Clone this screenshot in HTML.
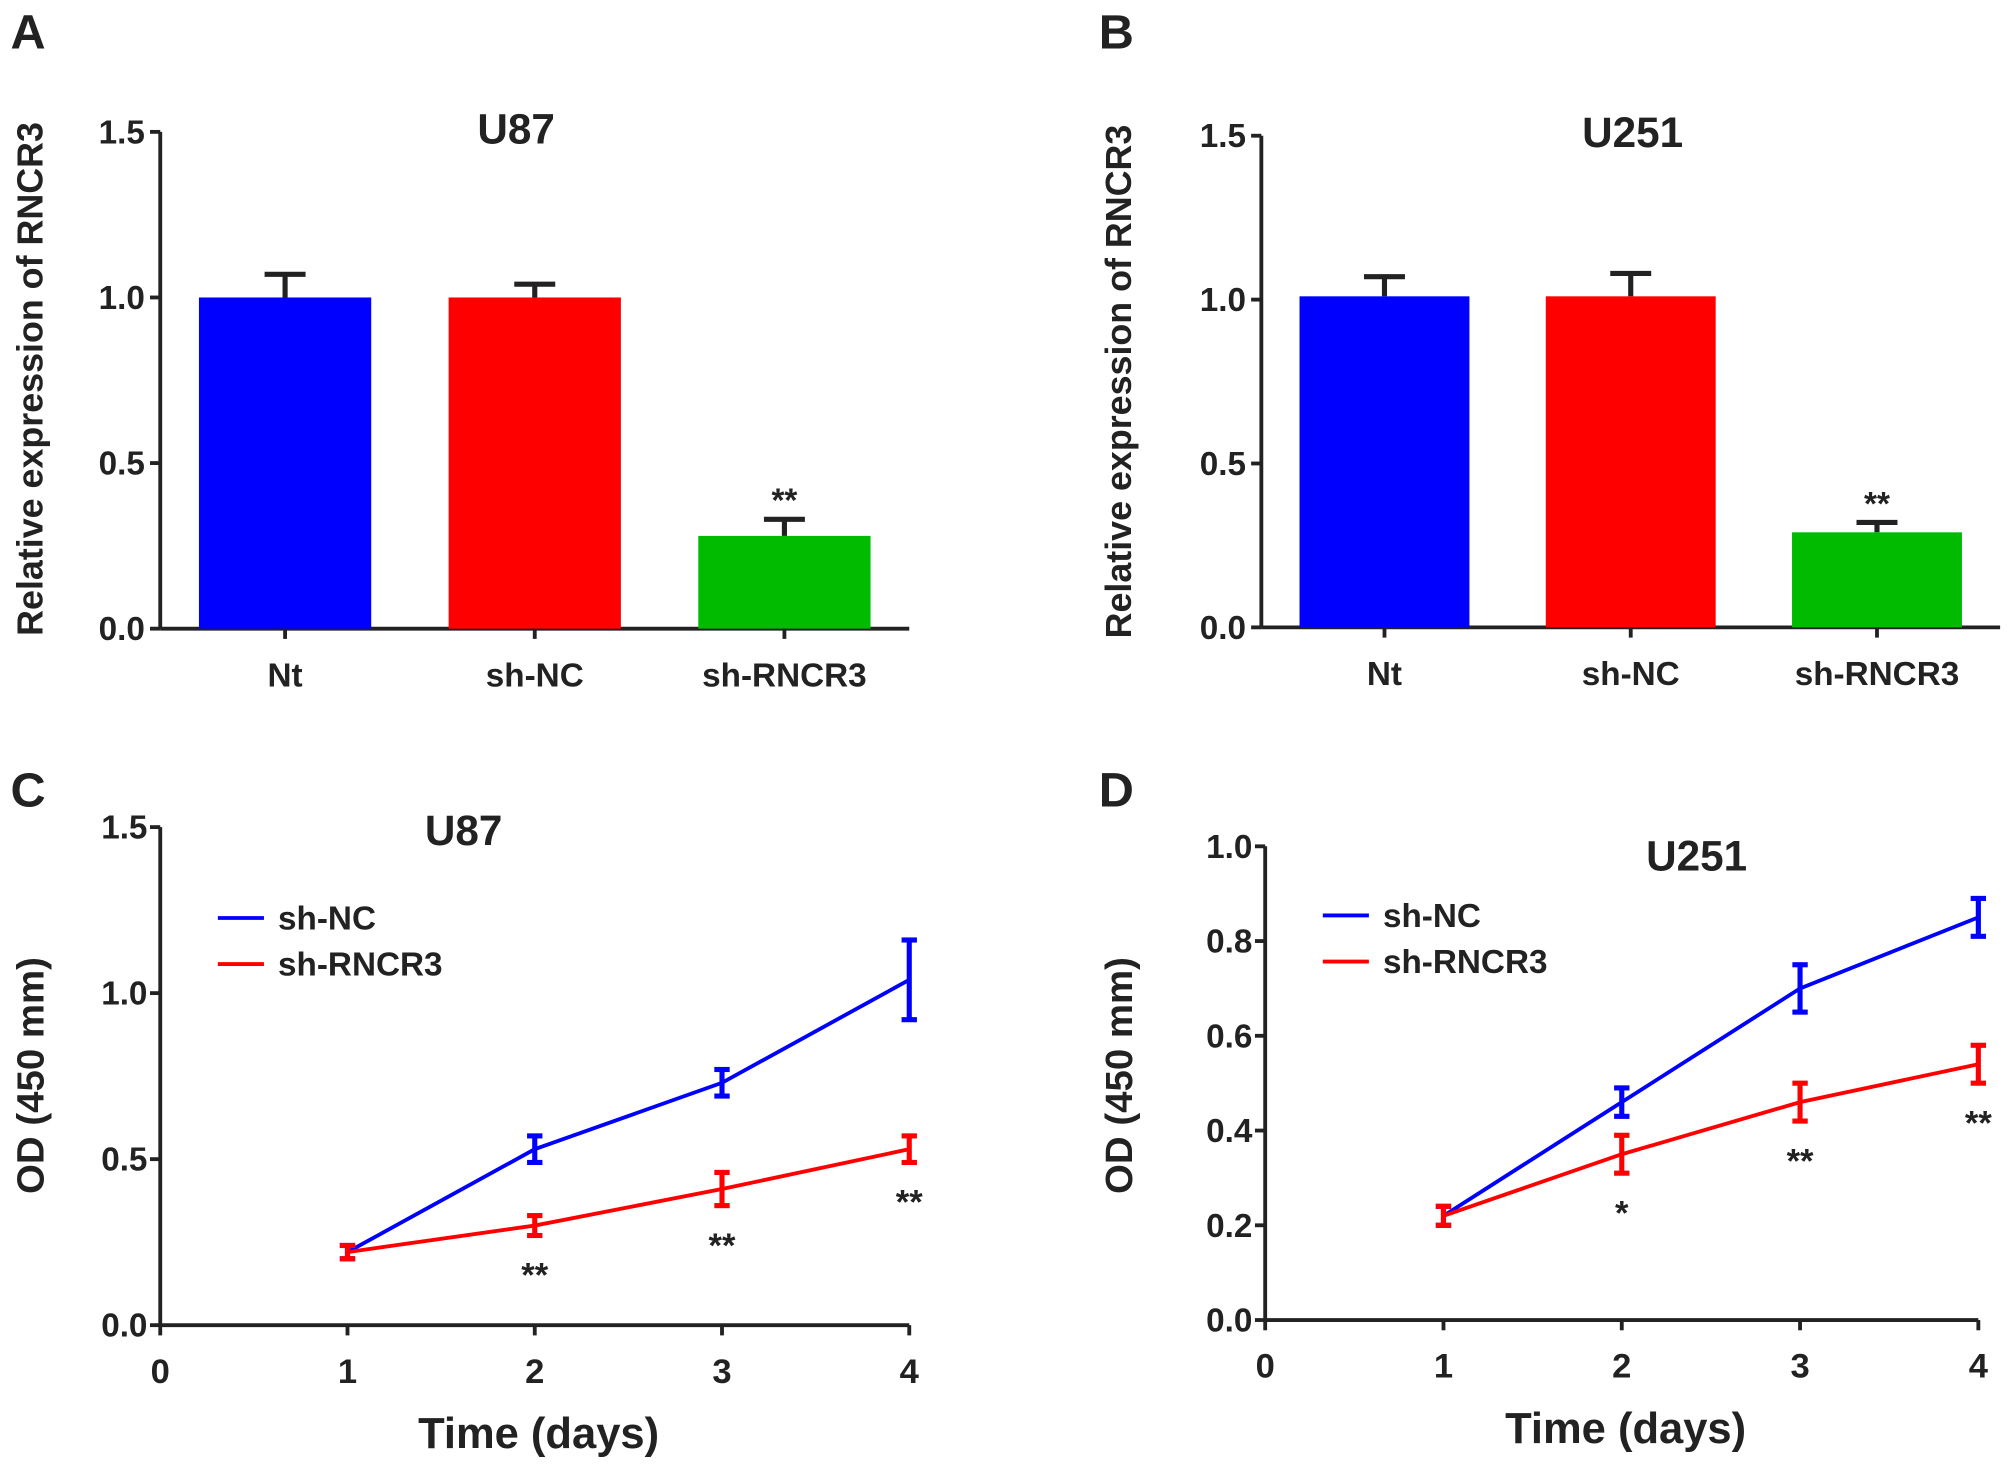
<!DOCTYPE html>
<html><head><meta charset="utf-8"><style>
html,body{margin:0;padding:0;background:#fff}
svg{display:block}
text{font-family:"Liberation Sans",Arial,sans-serif;font-weight:bold;fill:#222}
</style></head><body>
<svg id="fig" width="2008" height="1466" viewBox="0 0 1568 1145" xmlns="http://www.w3.org/2000/svg"></svg>
<script>
// Panel A data
const barCatsA = ["Nt","sh-NC","sh-RNCR3"];
const barValsA = [1.0, 1.0, 0.28];
const barErrA = [0.07, 0.04, 0.05];
// Panel B data
const barCatsB = ["Nt","sh-NC","sh-RNCR3"];
const barValsB = [1.01, 1.01, 0.29];
const barErrB = [0.06, 0.07, 0.03];
const barTicksAB = [0.0, 0.5, 1.0, 1.5];
const barColors = ["#0000ff","#ff0000","#00bb00"];
// Panel C data
const daysC = [1,2,3,4];
const ncValsC = [0.22, 0.53, 0.73, 1.04];
const ncErrC = [0.02, 0.04, 0.04, 0.12];
const shValsC = [0.22, 0.30, 0.41, 0.53];
const shErrC = [0.02, 0.03, 0.05, 0.04];
const starsC = ["", "**", "**", "**"];
const yTicksC = [0.0, 0.5, 1.0, 1.5];
// Panel D data
const daysD = [1,2,3,4];
const ncValsD = [0.22, 0.46, 0.70, 0.85];
const ncErrD = [0.02, 0.03, 0.05, 0.04];
const shValsD = [0.22, 0.35, 0.46, 0.54];
const shErrD = [0.02, 0.04, 0.04, 0.04];
const starsD = ["", "*", "**", "**"];
const yTicksD = [0.0, 0.2, 0.4, 0.6, 0.8, 1.0];
const xTicksCD = [0,1,2,3,4];

const svg = document.getElementById('fig');
const NS = "http://www.w3.org/2000/svg";
function mk(tag, attrs, parent, txt){
  const e = document.createElementNS(NS, tag);
  for (const k in attrs) e.setAttribute(k, attrs[k]);
  if (txt !== undefined) e.textContent = txt;
  (parent||svg).appendChild(e);
  return e;
}
function grp(name){
  const g = mk('g', {});
  
  
  return g;
}
function errBar(g, x, yTop, yBot, col, w, capBottom){
  mk('line',{x1:x,x2:x,y1:yTop,y2:yBot,stroke:col,'stroke-width':4},g);
  mk('line',{x1:x-w,x2:x+w,y1:yTop,y2:yTop,stroke:col,'stroke-width':4},g);
  if (capBottom) mk('line',{x1:x-w,x2:x+w,y1:yBot,y2:yBot,stroke:col,'stroke-width':4},g);
}

function letter(t,x,y){
  const e = mk('text',{x:x,y:y,'font-size':38},svg,t);
  
  
}
letter('A',8,38); letter('B',858,38); letter('C',8,630); letter('D',858,630);

function barPanel(id, cats, vals, errs, ax){
  const g = grp('bar-panel-'+id);
  const ys = v => ax.y0 - (v/1.5)*(ax.y0-ax.y15);
  mk('line',{x1:ax.x,x2:ax.x,y1:ax.y15,y2:ax.y0,stroke:'#222','stroke-width':3},g);
  mk('line',{x1:ax.x,x2:ax.xEnd,y1:ax.y0,y2:ax.y0,stroke:'#222','stroke-width':3},g);
  barTicksAB.forEach(t=>{
    const y=ys(t);
    mk('line',{x1:ax.x-8,x2:ax.x,y1:y,y2:y,stroke:'#222','stroke-width':3},g);
    const tl=mk('text',{x:ax.x-12,y:y+9,'font-size':26,'text-anchor':'end'},g,t.toFixed(1));
    
    
  });
  const n=cats.length, band=(ax.xEnd-ax.x)/n;
  cats.forEach((c,i)=>{
    const cx=ax.x+band*(i+0.5);
    const bw=band*0.69;
    errBar(g,cx,ys(vals[i]+errs[i]),ys(vals[i]),'#222',16,false);
    const r=mk('rect',{x:cx-bw/2,y:ys(vals[i]),width:bw,height:ax.y0-ys(vals[i]),fill:barColors[i]},g);
    
    
    mk('line',{x1:cx,x2:cx,y1:ax.y0,y2:ax.y0+8,stroke:'#222','stroke-width':3},g);
    const xl=mk('text',{x:cx,y:ax.y0+45,'font-size':26,'text-anchor':'middle'},g,c);
    
    
    if (i===n-1){
      const s=mk('text',{x:cx,y:ys(vals[i]+errs[i])-6,'font-size':26,'text-anchor':'middle'},g,'**');
      
      
    }
  });
  const t=mk('text',{x:ax.tx,y:ax.ty,'font-size':33,'text-anchor':'middle'},g,ax.title);
  
  
  const yl=mk('text',{x:0,y:0,'font-size':28,'text-anchor':'middle',transform:`translate(${ax.lx},${ax.ly}) rotate(-90)`},g,'Relative expression of RNCR3');
  
  
}
barPanel('a',barCatsA,barValsA,barErrA,{x:125,xEnd:710,y0:491,y15:103,tx:403,ty:112,title:'U87',lx:33,ly:296});
barPanel('b',barCatsB,barValsB,barErrB,{x:985,xEnd:1562,y0:490,y15:106,tx:1275,ty:115,title:'U251',lx:883,ly:298});

function linePanel(id, days, nc, ncE, sh, shE, stars, yT, ax){
  const g = grp('line-panel-'+id);
  const ymax=yT[yT.length-1];
  const ys = v => ax.y0 - (v/ymax)*(ax.y0-ax.yTop);
  const xs = d => ax.x + d/4*(ax.xEnd-ax.x);
  mk('line',{x1:ax.x,x2:ax.x,y1:ax.yTop,y2:ax.y0,stroke:'#222','stroke-width':3},g);
  mk('line',{x1:ax.x,x2:ax.xEnd,y1:ax.y0,y2:ax.y0,stroke:'#222','stroke-width':3},g);
  yT.forEach(t=>{
    const y=ys(t);
    mk('line',{x1:ax.x-8,x2:ax.x,y1:y,y2:y,stroke:'#222','stroke-width':3},g);
    const tl=mk('text',{x:ax.x-10,y:y+9,'font-size':26,'text-anchor':'end'},g,t.toFixed(1));
    
    
  });
  xTicksCD.forEach(t=>{
    const x=xs(t);
    mk('line',{x1:x,x2:x,y1:ax.y0,y2:ax.y0+8,stroke:'#222','stroke-width':3},g);
    const tl=mk('text',{x:x,y:ax.y0+45,'font-size':27,'text-anchor':'middle'},g,String(t));
    
    
  });
  function series(vals, errs, col, name){
    const pts=days.map((d,i)=>xs(d)+','+ys(vals[i])).join(' ');
    const pl=mk('polyline',{points:pts,fill:'none',stroke:col,'stroke-width':3},g);
    
    
    days.forEach((d,i)=>{
      errBar(g,xs(d),ys(vals[i]+errs[i]),ys(vals[i]-errs[i]),col,6,true);
    });
  }
  series(nc,ncE,'#0000ff','sh-nc');
  series(sh,shE,'#ff0000','sh-rncr3');
  days.forEach((d,i)=>{
    if(!stars[i]) return;
    const s=mk('text',{x:xs(d),y:ys(sh[i]-shE[i])+40,'font-size':27,'text-anchor':'middle'},g,stars[i]);
    
    
  });
  const lg=mk('g',{},g);
  
  
  [['sh-NC','#0000ff'],['sh-RNCR3','#ff0000']].forEach((e,i)=>{
    const y=ax.ly+i*36;
    mk('line',{x1:ax.lx,x2:ax.lx+36,y1:y,y2:y,stroke:e[1],'stroke-width':3},lg);
    const t=mk('text',{x:ax.lx+47,y:y+9,'font-size':26},lg,e[0]);
    
    
  });
  const t=mk('text',{x:ax.tx,y:ax.ty,'font-size':33,'text-anchor':'middle'},g,ax.title);
  
  
  const xl=mk('text',{x:(ax.x+ax.xEnd)/2+3,y:ax.y0+96,'font-size':34,'text-anchor':'middle'},g,'Time (days)');
  
  
  const yl=mk('text',{x:0,y:0,'font-size':30,'text-anchor':'middle',transform:`translate(${ax.ylx},${ax.yly}) rotate(-90)`},g,'OD (450 mm)');
  
  
}
linePanel('c',daysC,ncValsC,ncErrC,shValsC,shErrC,starsC,yTicksC,{x:125,xEnd:710,y0:1035,yTop:646,tx:362,ty:660,title:'U87',lx:170,ly:717,ylx:34,yly:840});
linePanel('d',daysD,ncValsD,ncErrD,shValsD,shErrD,starsD,yTicksD,{x:988,xEnd:1545,y0:1031,yTop:661,tx:1325,ty:680,title:'U251',lx:1033,ly:715,ylx:884,yly:840});
</script>
</body></html>
